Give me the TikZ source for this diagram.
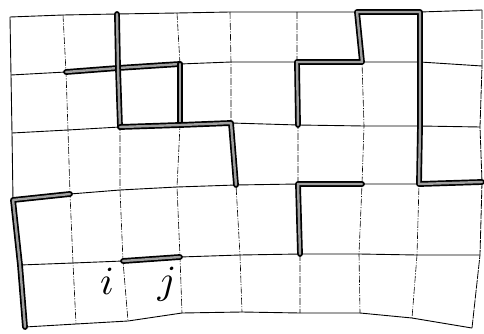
\documentclass[tikz,border=0pt]{standalone}
\begin{document}
\begin{tikzpicture}[x=1pt,y=-1pt,
  hline/.style={line width=0.9pt, line join=round},
  vline/.style={line width=0.6pt, line join=round, dash pattern=on 7pt off 1.5pt on 1pt off 1.5pt},
  rimline/.style={line width=0.8pt, line join=round, dash pattern=on 9pt off 1pt},
  edgeline/.style={line width=0.9pt, line join=round},
  wall/.style={line width=1.7pt, double=gray!75, double distance=2.4pt, line cap=round, line join=round},
  lbl/.style={scale=4, inner sep=0pt}]
\useasboundingbox (0,0) rectangle (484,334);
% grid points p<col><row>
\coordinate (p00) at (10,17);  \coordinate (p10) at (63,15);  \coordinate (p20) at (117,14);
\coordinate (p30) at (177,13); \coordinate (p40) at (230,12); \coordinate (p50) at (297,12);
\coordinate (p60) at (357,12); \coordinate (p70) at (420,12); \coordinate (p80) at (482,10);
\coordinate (p01) at (11,75);  \coordinate (p11) at (66,72);  \coordinate (p21) at (118,68);
\coordinate (p31) at (180,64); \coordinate (p41) at (231,62); \coordinate (p51) at (297,62);
\coordinate (p61) at (362,62); \coordinate (p71) at (420,62); \coordinate (p81) at (482,66);
\coordinate (p02) at (12,133); \coordinate (p12) at (68,130); \coordinate (p22) at (120,127);
\coordinate (p32) at (180,125);\coordinate (p42) at (231,123);\coordinate (p52) at (298,125);
\coordinate (p62) at (364,126);\coordinate (p72) at (420,126);\coordinate (p82) at (480,127);
\coordinate (p03) at (13,200); \coordinate (p13) at (70,194); \coordinate (p23) at (120,190);
\coordinate (p33) at (177,187);\coordinate (p43) at (236,185);\coordinate (p53) at (298,184);
\coordinate (p63) at (362,184);\coordinate (p73) at (419,184);\coordinate (p83) at (482,182);
\coordinate (p04) at (20,265); \coordinate (p14) at (73,263); \coordinate (p24) at (123,261);
\coordinate (p34) at (180,257);\coordinate (p44) at (240,255);\coordinate (p54) at (300,254);
\coordinate (p64) at (359,254);\coordinate (p74) at (417,255);\coordinate (p84) at (480,255);
\coordinate (p05) at (25,327); \coordinate (p15) at (76,324); \coordinate (p25) at (128,321);
\coordinate (p35) at (182,313);\coordinate (p45) at (242,312);\coordinate (p55) at (300,313);
\coordinate (p65) at (360,313);\coordinate (p75) at (412,318);\coordinate (p85) at (472,328);
% horizontal grid lines
\foreach \r in {0,...,5}
  \draw[hline] (p0\r) -- (p1\r) -- (p2\r) -- (p3\r) -- (p4\r) -- (p5\r) -- (p6\r) -- (p7\r) -- (p8\r);
% vertical grid lines
\draw[edgeline] (p00) -- (p01) -- (p02) -- (p03) -- (p04) -- (p05);
\foreach \c in {1,...,7}
  \draw[vline] (p\c0) -- (p\c1) -- (p\c2) -- (p\c3) -- (p\c4) -- (p\c5);
\draw[rimline] (p80) -- (p81) -- (p82) -- (p83) -- (p84) -- (p85);
% thick walls
\draw[wall] (p11) -- (p21) -- (p31);
\draw[wall] (p20) -- (p21) -- (p22);
\draw[wall] (p31) -- (p32);
\draw[wall] (p22) -- (p32) -- (p42) -- (p43);
\draw[wall] (p13) -- (p03) -- (p04) -- (p05);
\draw[wall] (p24) -- (p34);
\draw[wall] (p52) -- (p51) -- (p61) -- (p60) -- (p70) -- (p71) -- (p72) -- (p73) -- (p83);
\draw[wall] (p63) -- (p53) -- (p54);
% labels
\node[lbl] (labi) at (107,281) {$i$};
\node[lbl] (labj) at (167,284) {$j$};
\end{tikzpicture}
\end{document}
